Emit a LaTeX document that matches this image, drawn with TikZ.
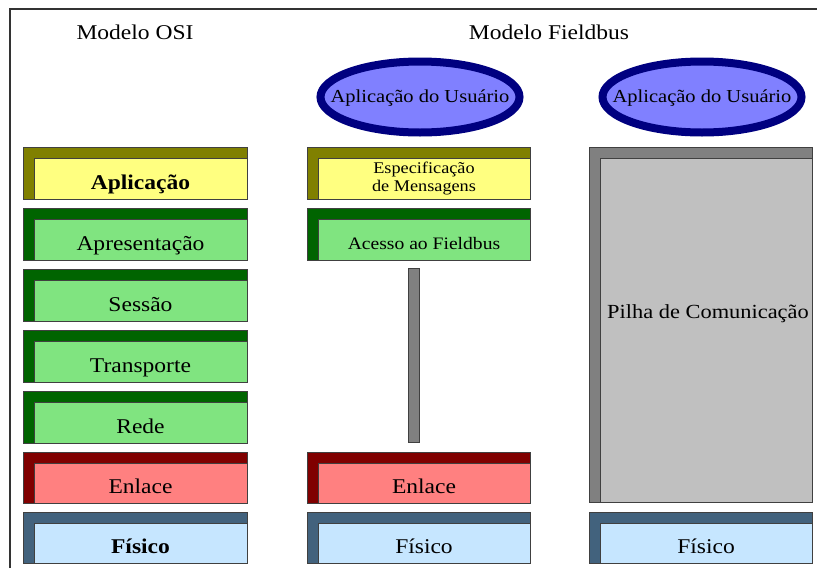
\documentclass[tikz,border=0pt]{standalone}
\usepackage{fontspec}
\setmainfont{Liberation Serif}[FakeStretch=1.12]
\usetikzlibrary{shapes.geometric}
\definecolor{yelband}{RGB}{128,128,0}
\definecolor{yellight}{RGB}{255,255,128}
\definecolor{grnband}{RGB}{0,100,0}
\definecolor{grnlight}{RGB}{128,228,128}
\definecolor{redband}{RGB}{128,0,0}
\definecolor{redlight}{RGB}{255,128,128}
\definecolor{bluband}{RGB}{66,98,125}
\definecolor{blulight}{RGB}{198,230,255}
\definecolor{gryband}{RGB}{128,128,128}
\definecolor{grylight}{RGB}{192,192,192}
\definecolor{ovalfill}{RGB}{128,128,255}
\definecolor{ovalline}{RGB}{0,0,128}
\newcommand\layerfont{\fontsize{21}{23}\selectfont}
% one protocol layer: [#1 text style], #2 name, #3 left, #4 top, #5 width, #6 height, #7 colour family, #8 text
\newcommand\layerbox[8][stdtext]{%
  \node[outerbox, fill=#7band, minimum width=#5pt, minimum height=#6pt] (#2) at (#3,#4) {};
  \node[innerbox, fill=#7light, minimum width={#5pt-11pt}, minimum height={#6pt-11pt}, #1] (#2-in) at (#2.south east) {#8};
}
\begin{document}
\begin{tikzpicture}[x=1pt,y=-1pt,
  outerbox/.style={draw=black!75, line width=0.9pt, anchor=north west, inner sep=0pt, outer sep=0pt},
  innerbox/.style={draw=black!75, line width=0.9pt, anchor=south east, inner sep=0pt, outer sep=0pt, align=center},
  stdtext/.style={font=\layerfont, text height=23pt, text depth=2pt},
  smalltext/.style={font=\fontsize{16.3}{17.5}\selectfont},
  midtext/.style={font=\fontsize{17.5}{19}\selectfont, text height=21pt, text depth=2pt},
  oval/.style={ellipse, draw=ovalline, line width=8pt, fill=ovalfill, minimum width=199pt, minimum height=71pt, inner sep=0pt},
  ovaltext/.style={font=\fontsize{18.3}{20}\selectfont, inner sep=0pt},
  title/.style={font=\layerfont, inner sep=0pt}]
\useasboundingbox (0,0) rectangle (817,568);
\fill[white] (0,0) rectangle (817,568);

% frame
\coordinate (frame-bl) at (10,568);
\coordinate (frame-tl) at (10,9);
\coordinate (frame-tr) at (817,9);
\draw[black!80, line width=1.5pt] (frame-bl) -- (frame-tl) -- (frame-tr);

% titles
\node[title] (osi-title) at (135,32) {Modelo OSI};
\node[title] (fb-title) at (549,32) {Modelo Fieldbus};

% OSI stack
\layerbox{osi7}{23}{147}{224}{52}{yel}{\textbf{Aplicação}}
\layerbox{osi6}{23}{208}{224}{52}{grn}{Apresentação}
\layerbox{osi5}{23}{269}{224}{52}{grn}{Sessão}
\layerbox{osi4}{23}{330}{224}{52}{grn}{Transporte}
\layerbox{osi3}{23}{391}{224}{52}{grn}{Rede}
\layerbox{osi2}{23}{452}{224}{51}{red}{Enlace}
\layerbox{osi1}{23}{512}{224}{51}{blu}{\textbf{Físico}}

% Fieldbus stack
\node[oval] (fb-user) at (420,97) {};
\node[ovaltext] (fb-user-text) at (420,98) {Aplicação do Usuário};
\layerbox[smalltext]{fb-msg}{307}{147}{223}{52}{yel}{Especificação\\de Mensagens}
\layerbox[midtext]{fb-acc}{307}{208}{223}{52}{grn}{Acesso ao Fieldbus}
\node[outerbox, fill=gryband, minimum width=11pt, minimum height=174pt] (fb-bar) at (408,268) {};
\layerbox{fb-link}{307}{452}{223}{51}{red}{Enlace}
\layerbox{fb-phy}{307}{512}{223}{51}{blu}{Físico}

% communication stack
\node[oval] (cs-user) at (702,97) {};
\node[ovaltext] (cs-user-text) at (702,98) {Aplicação do Usuário};
\layerbox{cs-stack}{589}{147}{223}{355}{gry}{}
\node[font=\fontsize{20}{22}\selectfont, inner sep=0pt] (cs-stack-text) at (708,314) {Pilha de Comunicação};
\layerbox{cs-phy}{589}{512}{223}{51}{blu}{Físico}
\end{tikzpicture}
\end{document}
